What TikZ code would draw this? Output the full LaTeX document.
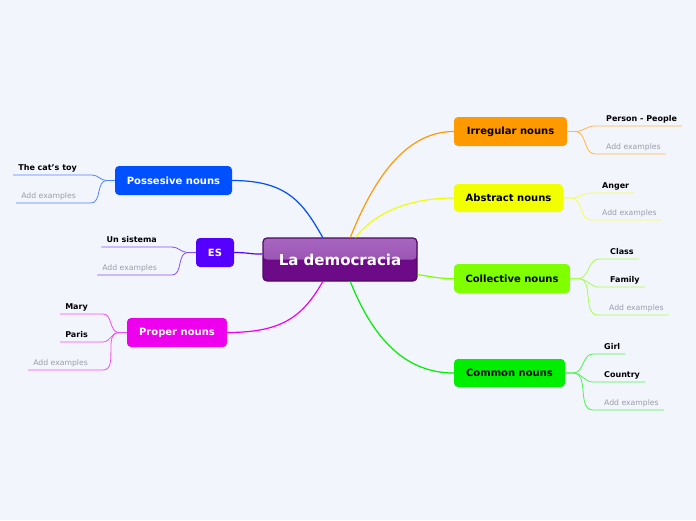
\documentclass[tikz,border=0pt]{standalone}
\usepackage{fontspec}
\setmainfont{DejaVu Sans}
\usetikzlibrary{positioning,calc}

\definecolor{bgcol}{HTML}{F3F5FD}
\definecolor{irrcol}{HTML}{FF9900}
\definecolor{abscol}{HTML}{F2FF00}
\definecolor{colcol}{HTML}{80FF00}
\definecolor{comcol}{HTML}{00EE00}
\definecolor{poscol}{HTML}{0050FF}
\definecolor{escol}{HTML}{5500FF}
\definecolor{procol}{HTML}{EE00EE}
\definecolor{demotop}{HTML}{A866C0}
\definecolor{demomid}{HTML}{8E45A8}
\definecolor{demobot}{HTML}{6C0A88}
\definecolor{demoline}{HTML}{4E0A64}
\definecolor{addcol}{HTML}{9C9CA8}

\begin{document}
\begin{tikzpicture}[
x=1pt, y=-1pt,
demo/.style={
rounded corners=4pt,
draw=demoline,
line width=1.2pt,
fill=demobot,
minimum width=154pt,
minimum height=43pt,
inner sep=0pt,
text=white,
font=\fontsize{15}{18}\selectfont\bfseries,
path picture={\fill[top color=demotop,bottom color=demomid]
(path picture bounding box.north west) rectangle (path picture bounding box.east);}
},
topic/.style={
rounded corners=4pt,
inner sep=0pt,
minimum height=29pt,
font=\fontsize{10}{12}\selectfont\bfseries
},
leaf/.style={
inner xsep=5pt,
inner ysep=4pt,
text depth=0pt,
font=\fontsize{8}{9.6}\selectfont\bfseries
},
addex/.style={leaf,text=addcol,font=\fontsize{7.7}{9}\selectfont},
mainedge/.style={line width=1.2pt},
leafedge/.style={line width=0.8pt}
]
\useasboundingbox[fill=bgcol] (0,0) rectangle (696,520);

% central topic
\node[demo] (demo) at (340,259.5) {La democracia};

% main topics
\node[topic,fill=irrcol,minimum width=113pt] (irr) at (510.5,131.5) {Irregular nouns};
\node[topic,fill=abscol,minimum width=109pt,minimum height=28pt] (abs) at (508.5,198) {Abstract nouns};
\node[topic,fill=colcol,minimum width=116pt] (col) at (512,278.5) {Collective nouns};
\node[topic,fill=comcol,minimum width=111pt,minimum height=28pt] (com) at (509.5,373) {Common nouns};
\node[topic,fill=poscol,text=white,minimum width=117pt] (pos) at (173.5,180.5) {Possesive nouns};
\node[topic,fill=escol,text=white,minimum width=38pt] (es) at (215,252.5) {ES};
\node[topic,fill=procol,text=white,minimum width=100pt] (pro) at (177,332.5) {Proper nouns};

% leaves, right side
\node[leaf,anchor=south west] (person) at (601,126) {Person - People};
\node[addex,anchor=south west] (irradd) at (601,154) {Add examples};
\node[leaf,anchor=south west] (anger) at (597,193) {Anger};
\node[addex,anchor=south west] (absadd) at (597,220) {Add examples};
\node[leaf,anchor=south west] (class) at (605,259) {Class};
\node[leaf,anchor=south west] (family) at (605,287) {Family};
\node[addex,anchor=south west] (coladd) at (604,315) {Add examples};
\node[leaf,anchor=south west] (girl) at (599,354) {Girl};
\node[leaf,anchor=south west] (country) at (599,382) {Country};
\node[addex,anchor=south west] (comadd) at (599,410) {Add examples};

% leaves, left side
\node[leaf,anchor=south east] (toy) at (82,175) {The cat's toy};
\node[addex,anchor=south east] (posadd) at (81,203) {Add examples};
\node[leaf,anchor=south east] (sistema) at (162,247) {Un sistema};
\node[addex,anchor=south east] (esadd) at (162,275) {Add examples};
\node[leaf,anchor=south east] (mary) at (93,314) {Mary};
\node[leaf,anchor=south east] (paris) at (93,342) {Paris};
\node[addex,anchor=south east] (proadd) at (93,370) {Add examples};

% main branches
\draw[mainedge,irrcol] (demo.65) .. controls +(22,-55) and +(-50,0) .. (irr.west);
\draw[mainedge,abscol] (demo.55) .. controls +(20,-25) and +(-45,0) .. (abs.west);
\draw[mainedge,colcol] (demo.349) .. controls +(20,3) and +(-15,0) .. (col.west);
\draw[mainedge,comcol] (demo.295) .. controls +(22,55) and +(-50,0) .. (com.west);
\draw[mainedge,poscol] (demo.128) .. controls +(-20,-35) and +(55,0) .. (pos.east);
\draw[mainedge,escol] (demo.176) .. controls +(-15,0) and +(15,0) .. (es.east);
\draw[mainedge,procol] (demo.232) .. controls +(-20,35) and +(55,0) .. (pro.east);

% leaf branches
\foreach \leafnode/\topicnode/\leafcol in {person/irr/irrcol,irradd/irr/irrcol,anger/abs/abscol,absadd/abs/abscol,class/col/colcol,family/col/colcol,coladd/col/colcol,girl/com/comcol,country/com/comcol,comadd/com/comcol}
\draw[leafedge,\leafcol!70!white] (\topicnode.east) -- ++(8,0) to[out=0,in=180] ($(\leafnode.south west)+(-6,0)$) -- (\leafnode.south east);
\foreach \leafnode/\topicnode/\leafcol in {toy/pos/poscol,posadd/pos/poscol,sistema/es/escol,esadd/es/escol,mary/pro/procol,paris/pro/procol,proadd/pro/procol}
\draw[leafedge,\leafcol!70!white] (\topicnode.west) -- ++(-8,0) to[out=180,in=0] ($(\leafnode.south east)+(10,0)$) -- (\leafnode.south west);
\end{tikzpicture}
\end{document}
